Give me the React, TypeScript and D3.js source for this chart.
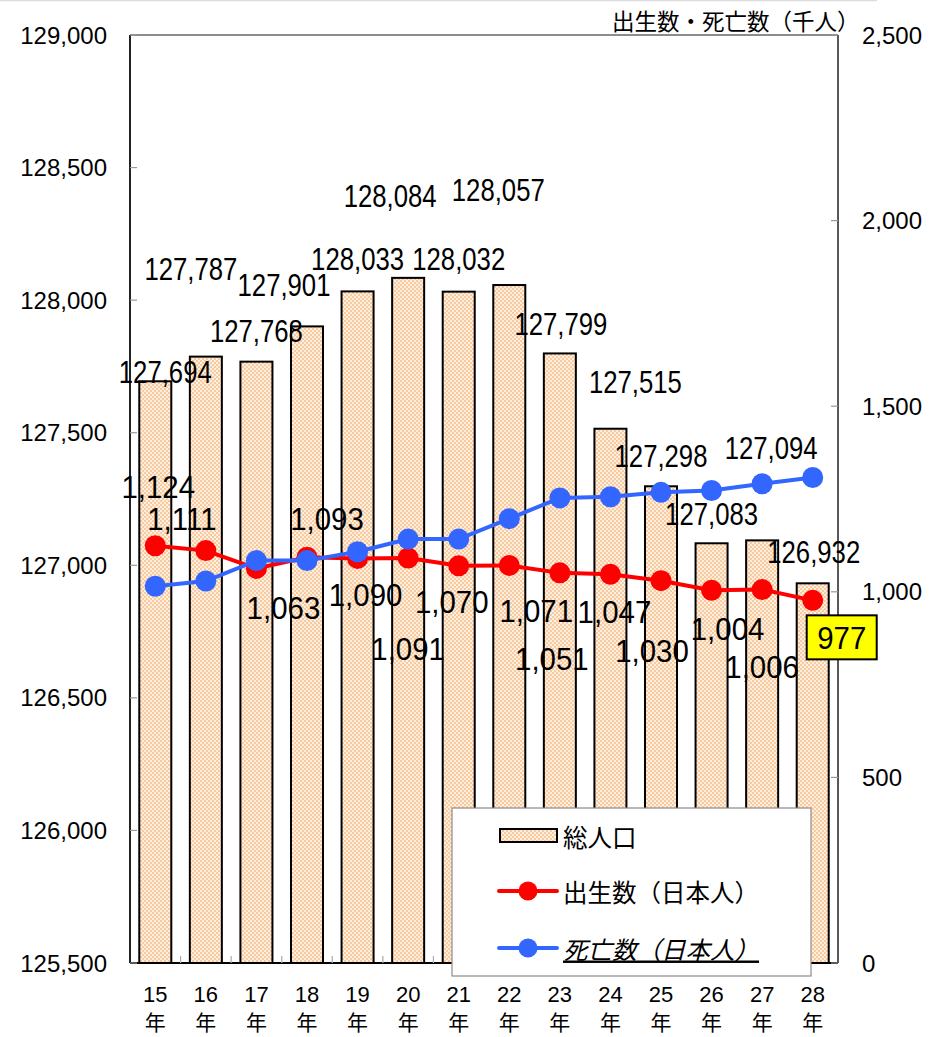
import React from "react";
import * as d3 from "d3";

// 年次（平成）
const years = ["15", "16", "17", "18", "19", "20", "21", "22", "23", "24", "25", "26", "27", "28"];
// 総人口（千人）
const totalPopulation = [127694, 127787, 127768, 127901, 128033, 128084, 128032, 128057, 127799, 127515, 127298, 127083, 127094, 126932];
// 出生数（日本人、千人）
const births = [1124, 1111, 1063, 1093, 1090, 1091, 1070, 1071, 1051, 1047, 1030, 1004, 1006, 977];
// 死亡数（日本人、千人）
const deaths = [1015, 1029, 1084, 1084, 1108, 1142, 1142, 1197, 1253, 1256, 1268, 1273, 1291, 1308];

const leftTicks = [125500, 126000, 126500, 127000, 127500, 128000, 128500, 129000];
const rightTicks = [0, 500, 1000, 1500, 2000, 2500];

// label placement (dx, dy) relative to the bar top / marker
const popLabelOffset: [number, number][] = [
  [10, 2], [-15, -77], [0, -20], [-23, -30], [0, -21], [-18, -71], [0, -22],
  [-11, -84], [1, -18], [25, -36], [0, -19], [0, -18], [9, -81], [1, -20],
];
const birthLabelOffset: [number, number][] = [
  [3, -48], [-24, -21], [27, 51], [20, -27], [8, 48], [0, 102], [-7, 47],
  [27, 57], [-8, 97], [4, 49], [-9, 81], [16, 50], [0, 88], [0, 0],
];

const W = 930;
const H = 1037;
const L = 130;
const R = 838;
const T = 35;
const B = 963;

const fmt = d3.format(",");
const NUM_FONT = "'Liberation Sans', Arial, 'Noto Sans CJK JP', sans-serif";
const JP_FONT = "'Noto Sans CJK JP', 'Liberation Sans', sans-serif";

function Label({ x, y, text, sx = 0.83 }: { x: number; y: number; text: string; sx?: number }) {
  return (
    <text
      transform={`translate(${x},${y}) scale(${sx},1)`}
      textAnchor="middle"
      fontFamily={NUM_FONT}
      fontSize={31}
      fill="#000"
    >
      {text}
    </text>
  );
}

export default function App() {
  const x = d3.scaleBand<string>().domain(years).range([L, R]).paddingInner(0.367).paddingOuter(0.1835);
  const yL = d3.scaleLinear().domain([125500, 129000]).range([B, T]);
  const yR = d3.scaleLinear().domain([0, 2500]).range([B, T]);
  const cx = (y: string) => (x(y) ?? 0) + x.bandwidth() / 2;
  const step = x.step();

  const line = d3
    .line<number>()
    .x((_, i) => cx(years[i]))
    .y((d) => yR(d));

  const lastIdx = years.length - 1;
  const lastX = cx(years[lastIdx]);
  const lastY = yR(births[lastIdx]);

  return (
    <div style={{ position: "absolute", left: 0, top: 0 }}>
      <svg width={W} height={H} viewBox={`0 0 ${W} ${H}`} style={{ display: "block", background: "#fff" }}>
        <defs>
          <pattern id="peach" width="4" height="4" patternUnits="userSpaceOnUse">
            <rect width="4" height="4" fill="#fdeedd" />
            <rect width="2" height="2" fill="#f7caa0" />
            <rect x="2" y="2" width="2" height="2" fill="#f7caa0" />
          </pattern>
        </defs>

        <line x1={0} x2={877} y1={0.5} y2={0.5} stroke="#dcdcdc" strokeWidth={1.5} />

        {/* bars: 総人口 */}
        {totalPopulation.map((v, i) => (
          <rect
            key={`bar-${i}`}
            x={x(years[i])}
            y={yL(v)}
            width={x.bandwidth()}
            height={B - yL(v)}
            fill="url(#peach)"
            stroke="#000"
            strokeWidth={2}
          />
        ))}

        {/* frame */}
        <line x1={L} x2={R} y1={T} y2={T} stroke="#8c8c8c" strokeWidth={2} />
        <line x1={L} x2={L} y1={T} y2={B} stroke="#222" strokeWidth={2} />
        <line x1={R} x2={R} y1={T} y2={B} stroke="#222" strokeWidth={1.5} />
        <line x1={L} x2={R} y1={B} y2={B} stroke="#000" strokeWidth={2} />

        {/* ticks */}
        {leftTicks.map((t) => (
          <line key={`lt-${t}`} x1={L} x2={L + 7} y1={yL(t)} y2={yL(t)} stroke="#999" strokeWidth={1.2} />
        ))}
        {rightTicks.map((t) => (
          <line key={`rt-${t}`} x1={R - 7} x2={R} y1={yR(t)} y2={yR(t)} stroke="#999" strokeWidth={1.2} />
        ))}
        {years.slice(1).map((_, i) => (
          <line
            key={`bt-${i}`}
            x1={L + (i + 1) * step}
            x2={L + (i + 1) * step}
            y1={B}
            y2={B - 7}
            stroke="#aaa"
            strokeWidth={1.2}
          />
        ))}

        {/* tick labels */}
        {leftTicks.map((t) => (
          <text
            key={`ll-${t}`}
            x={107}
            y={yL(t)}
            textAnchor="end"
            dominantBaseline="central"
            fontFamily={NUM_FONT}
            fontSize={24}
            fill="#000"
          >
            {fmt(t)}
          </text>
        ))}
        {rightTicks.map((t) => (
          <text
            key={`rl-${t}`}
            x={862}
            y={yR(t)}
            textAnchor="start"
            dominantBaseline="central"
            fontFamily={NUM_FONT}
            fontSize={24}
            fill="#000"
          >
            {fmt(t)}
          </text>
        ))}
        {years.map((y) => (
          <g key={`xl-${y}`} fontFamily={NUM_FONT} fontSize={22} fill="#000" textAnchor="middle">
            <text x={cx(y)} y={1002}>{y}</text>
            <text x={cx(y)} y={1030} fontFamily={JP_FONT} fontSize={21}>年</text>
          </g>
        ))}

        <text x={612} y={20} dominantBaseline="central" fontFamily={JP_FONT} fontSize={22.5} fill="#000">
          出生数・死亡数（千人）
        </text>

        {/* lines */}
        <path d={line(births) ?? ""} fill="none" stroke="#ff0000" strokeWidth={4} />
        {births.map((v, i) => (
          <circle key={`bp-${i}`} cx={cx(years[i])} cy={yR(v)} r={10.5} fill="#ff0000" />
        ))}
        <path d={line(deaths) ?? ""} fill="none" stroke="#3366ff" strokeWidth={4} />
        {deaths.map((v, i) => (
          <circle key={`dp-${i}`} cx={cx(years[i])} cy={yR(v)} r={10.5} fill="#3366ff" />
        ))}

        {/* data labels */}
        {totalPopulation.map((v, i) => (
          <Label
            key={`pl-${i}`}
            x={cx(years[i]) + popLabelOffset[i][0]}
            y={yL(v) + popLabelOffset[i][1]}
            text={fmt(v)}
          />
        ))}
        {births.slice(0, lastIdx).map((v, i) => (
          <Label
            key={`bl-${i}`}
            x={cx(years[i]) + birthLabelOffset[i][0]}
            y={yR(v) + birthLabelOffset[i][1]}
            text={fmt(v)}
            sx={0.95}
          />
        ))}

        {/* legend */}
        <g>
          <rect x={452} y={808} width={359} height={168} fill="#fff" stroke="#8c8c8c" strokeWidth={1.2} />
          <rect x={500} y={829} width={57} height={13} fill="url(#peach)" stroke="#000" strokeWidth={2} />
          <text x={563} y={836} dominantBaseline="central" fontFamily={JP_FONT} fontSize={24.5} fill="#000">
            総人口
          </text>
          <line x1={499} x2={557} y1={891} y2={891} stroke="#ff0000" strokeWidth={4} strokeLinecap="round" />
          <circle cx={528} cy={891} r={9.5} fill="#ff0000" />
          <text x={563} y={891} dominantBaseline="central" fontFamily={JP_FONT} fontSize={24.5} fill="#000">
            出生数（日本人）
          </text>
          <line x1={499} x2={557} y1={948} y2={948} stroke="#3366ff" strokeWidth={4} strokeLinecap="round" />
          <circle cx={528} cy={948} r={9.5} fill="#3366ff" />
          <text
            x={563}
            y={948}
            dominantBaseline="central"
            fontFamily={JP_FONT}
            fontSize={24.5}
            fontStyle="italic"
            textDecoration="underline"
            fill="#000"
          >
            死亡数（日本人）
          </text>
        </g>

        {/* latest births callout */}
        <rect x={lastX - 6} y={lastY + 15} width={70} height={44} fill="#ffff00" stroke="#000" strokeWidth={2} />
        <Label x={lastX + 29} y={lastY + 49} text={fmt(births[lastIdx])} sx={0.95} />
      </svg>
    </div>
  );
}
